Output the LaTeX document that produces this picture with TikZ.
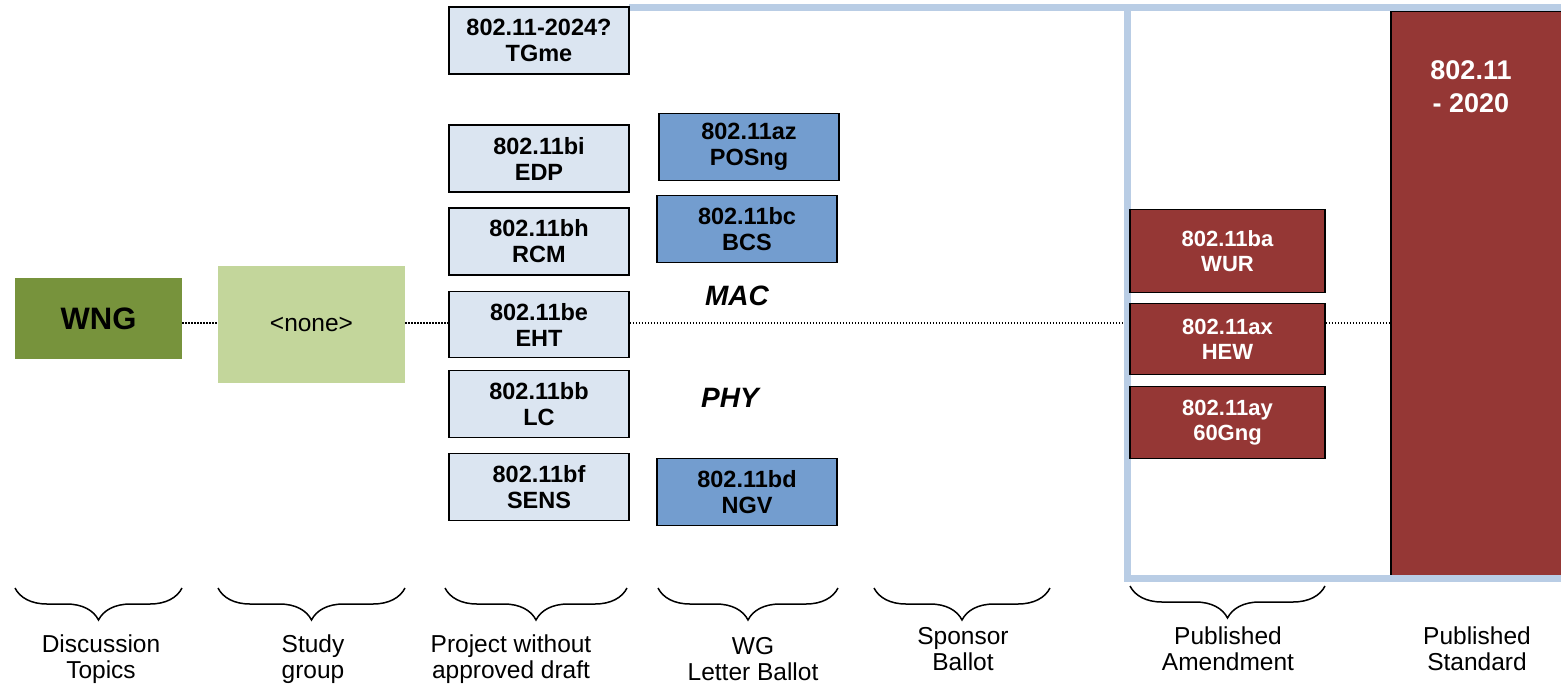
\documentclass[tikz,border=0pt]{standalone}
\usepackage{fontspec}
\setmainfont{Liberation Sans}
\usetikzlibrary{decorations.pathreplacing}
\definecolor{lblue}{HTML}{DBE5F1}
\definecolor{mblue}{HTML}{739DCF}
\definecolor{frameblue}{HTML}{B9CDE5}
\definecolor{olivegr}{HTML}{77933C}
\definecolor{lgreen}{HTML}{C3D69B}
\definecolor{dred}{HTML}{953735}
\begin{document}
\begin{tikzpicture}[x=1pt,y=-1pt,
  box/.style={draw=black, line width=1.5pt, align=center, inner sep=0pt, font=\fontsize{23.5}{26}\selectfont\bfseries},
  lbox/.style={box, fill=lblue, minimum width=180pt, minimum height=67pt},
  mbox/.style={box, fill=mblue, minimum width=180pt, minimum height=67pt},
  rbox/.style={box, fill=dred, text=white, minimum width=195pt, font=\fontsize{22}{25}\selectfont\bfseries},
  lbl/.style={align=center, font=\fontsize{24.5}{26}\selectfont},
  layer/.style={font=\fontsize{28}{30}\selectfont\bfseries\itshape},
  dots/.style={line width=1.6pt, dash pattern=on 1.6pt off 1.4pt},
  brc/.style={decorate, decoration={brace, mirror, amplitude=32pt}, line width=1.5pt},
  frame/.style={draw=frameblue, line width=7pt}
]
\useasboundingbox (0,0) rectangle (1561,683);

% published standard
\node[draw=black, line width=1.5pt, fill=dred, anchor=north west, minimum width=180pt, minimum height=565pt, inner sep=0pt] (std) at (1390,10) {};
\node[text=white, font=\fontsize{27}{33}\selectfont\bfseries, align=center] (stdtxt) at (1471,87) {802.11\\- 2020};

% frame
\draw[frame] (629,7) -- (1575,7);
\draw[frame] (1575,578) -- (1127,578) -- (1127,7);
\coordinate (frl) at (1124,323);
\coordinate (lvl) at (0,323);

% discussion / study
\node[fill=olivegr, minimum width=167pt, minimum height=81pt, inner sep=0pt, font=\fontsize{31}{33}\selectfont\bfseries] (wng) at (98.5,318.5) {WNG};
\node[fill=lgreen, minimum width=187pt, minimum height=117pt, inner sep=0pt, font=\fontsize{24.5}{26}\selectfont] (none) at (311.5,324.5) {<none>};

% projects
\node[lbox] (tgme) at (539,40.5) {802.11-2024?\\TGme};
\node[lbox] (bi) at (539,158.5) {802.11bi\\EDP};
\node[lbox] (bh) at (539,241.5) {802.11bh\\RCM};
\node[lbox, minimum height=66pt] (be) at (539,324.5) {802.11be\\EHT};
\node[lbox] (bb) at (539,404) {802.11bb\\LC};
\node[lbox] (bf) at (539,487) {802.11bf\\SENS};

% WG letter ballot
\node[mbox] (az) at (749,147) {802.11az\\POSng};
\node[mbox] (bc) at (747,229) {802.11bc\\BCS};
\node[mbox] (bd) at (747,492) {802.11bd\\NGV};

\node[layer] (mac) at (737,296) {MAC};
\node[layer] (phy) at (730,398) {PHY};

% amendments
\node[rbox, minimum height=83pt] (ba) at (1227.5,251) {802.11ba\\WUR};
\node[rbox, minimum height=71pt] (ax) at (1227.5,339) {802.11ax\\HEW};
\node[rbox, minimum height=72pt] (ay) at (1227.5,422.5) {802.11ay\\60Gng};

% dotted timeline
\draw[dots] (wng.east |- lvl) -- (none.west |- lvl);
\draw[dots] (none.east |- lvl) -- (be.west |- lvl);
\draw[dots] (be.east |- lvl) -- (frl);
\draw[dots] (ax.east |- lvl) -- (std.west |- lvl);

% braces
\draw[brc] (15,588) -- (182,588);
\draw[brc] (218,588) -- (405,588);
\draw[brc] (445,588) -- (627,588);
\draw[brc] (658,588) -- (838,588);
\draw[brc] (874,588) -- (1050,588);
\draw[brc] (1130,586) -- (1325,586);

% stage labels
\node[lbl] (l1) at (101,659) {Discussion\\Topics};
\node[lbl] (l2) at (313,659) {Study\\group};
\node[lbl] (l3) at (511,659) {Project without\\approved draft};
\node[lbl] (l4) at (753,659) {WG\\Letter Ballot};
\node[lbl] (l5) at (963,649) {Sponsor\\Ballot};
\node[lbl] (l6) at (1228,649) {Published\\Amendment};
\node[lbl] (l7) at (1477,649) {Published\\Standard};
\end{tikzpicture}
\end{document}
